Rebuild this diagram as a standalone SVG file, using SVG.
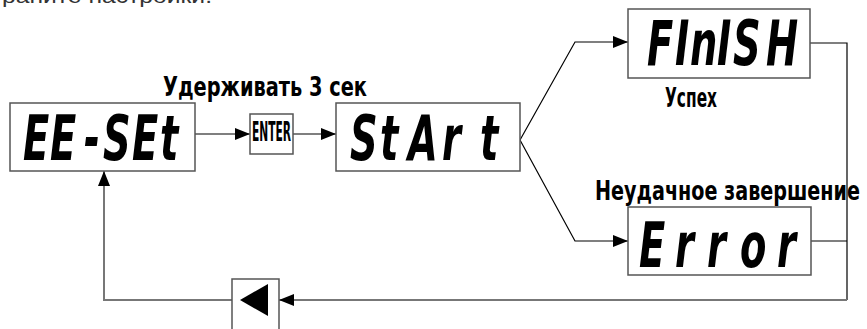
<svg xmlns="http://www.w3.org/2000/svg" width="867" height="329" viewBox="0 0 867 329">
<style>
.box{fill:#fff;stroke:#555;stroke-width:1.5}
.seg{font-family:"DejaVu Sans","DejaVu Sans Condensed",sans-serif;font-weight:bold;font-style:italic;font-size:62px;fill:#000}
.lbl{font-family:"DejaVu Sans Condensed","Liberation Sans Narrow","DejaVu Sans",sans-serif;font-weight:bold;font-size:26px;fill:#000}
.ln{fill:none;stroke:#000;stroke-width:1.2}
.gl{fill:none;stroke:#777;stroke-width:2}
</style>
<defs>
<marker id="ah" markerUnits="userSpaceOnUse" markerWidth="16" markerHeight="12" refX="15" refY="6" orient="auto">
<path d="M0,0 L15,6 L0,12 Z" fill="#000"/>
</marker>
</defs>
<text x="2" y="3" font-family="Liberation Sans,sans-serif" font-size="20" fill="#333" textLength="210" lengthAdjust="spacingAndGlyphs">раните настройки.</text>
<g id="connectors">
<line class="ln" x1="195" y1="134" x2="250" y2="134" marker-end="url(#ah)"/>
<line class="ln" x1="293" y1="134" x2="336" y2="134" marker-end="url(#ah)"/>
<polyline class="ln" points="520,140 575,42 628,42" marker-end="url(#ah)"/>
<polyline class="ln" points="520,140 575,241 628,241" marker-end="url(#ah)"/>
<polyline class="ln" points="810,43 847,43 847,300"/>
<line class="ln" x1="811" y1="241" x2="847" y2="241"/>
<polyline class="gl" points="847,300 279,300" marker-end="url(#ah)"/>
<polyline class="gl" points="232,300 104,300 104,171" marker-end="url(#ah)"/>
</g>
<g id="ee-set">
<rect class="box" x="10" y="103" width="185" height="68"/>
<text class="seg" transform="scale(0.62,1)" x="37.1 80.6 135.5 166.1 212.9 258.1" y="160">EE-SEt</text>
</g>
<g id="enter">
<rect class="box" x="250" y="114" width="43" height="40"/>
<text class="lbl" x="271.5" y="141" font-size="15" text-anchor="middle" textLength="39" lengthAdjust="spacingAndGlyphs">ENTER</text>
</g>
<g id="hold-label">
<text class="lbl" x="163" y="96" textLength="204" lengthAdjust="spacingAndGlyphs">Удерживать 3 сек</text>
</g>
<g id="start">
<rect class="box" x="336" y="103" width="184" height="68"/>
<text class="seg" transform="scale(0.62,1)" x="564.5 612.9 658.1 712.9 774.2" y="160">StArt</text>
</g>
<g id="finish">
<rect class="box" x="628" y="9" width="182" height="69"/>
<text class="seg" transform="scale(0.62,1)" x="1043.5 1088.7 1112.9 1156.5 1182.3 1235.5" y="65">FInISH</text>
<text class="lbl" x="665" y="107" textLength="52" lengthAdjust="spacingAndGlyphs">Успех</text>
</g>
<g id="error">
<text class="lbl" x="595" y="200" textLength="265" lengthAdjust="spacingAndGlyphs">Неудачное завершение</text>
<rect class="box" x="628" y="207" width="183" height="68"/>
<text class="seg" transform="scale(0.62,1)" x="1030.6 1088.7 1140.3 1193.5 1253.2" y="267">Error</text>
</g>
<g id="left-key">
<rect class="box" x="232" y="279" width="47" height="60"/>
<polygon points="240,300 268,284 268,316" fill="#000"/>
</g>
</svg>
